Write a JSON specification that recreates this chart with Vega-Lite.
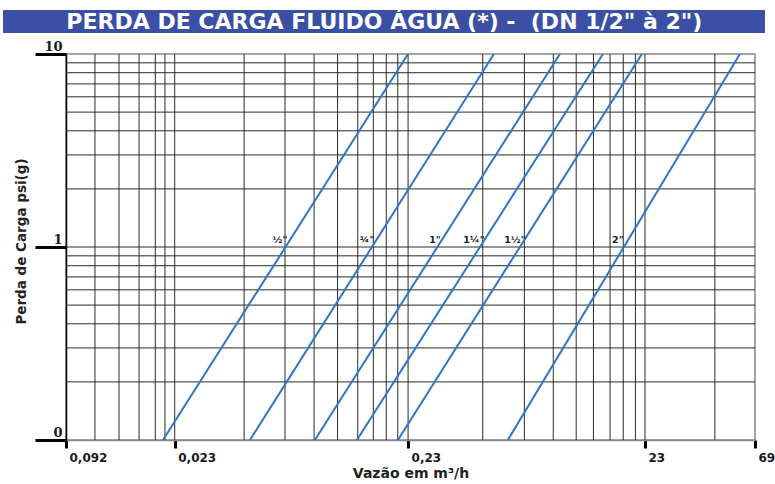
{
  "$schema": "https://vega.github.io/schema/vega-lite/v6.json",
  "padding": {"left": 3, "top": 10, "right": 0, "bottom": 0},
  "background": "white",
  "spacing": 6,
  "columns": 1,
  "align": "none",
  "config": {"view": {"stroke": null}},
  "concat": [
    {
      "width": 689,
      "height": 23,
      "view": {"stroke": null},
      "layer": [
        {
          "data": {"values": [{"band": "banner"}]},
          "mark": {"type": "rect", "color": "#3B4FA4"},
          "encoding": {
            "x": {"datum": 0.004253, "type": "quantitative", "scale": {"type": "log", "domain": [0.0079, 6.9], "nice": false}, "axis": null},
            "x2": {"datum": 7.612}
          }
        },
        {
          "data": {"values": [{"t": "PERDA DE CARGA FLUIDO ÁGUA (*) - \u00a0(DN 1/2\" à 2\")"}]},
          "mark": {"type": "text", "color": "white", "font": "DejaVu Sans", "fontWeight": "bold", "fontSize": 22, "baseline": "middle", "align": "center"},
          "encoding": {
            "x": {"datum": 0.1805, "type": "quantitative"},
            "text": {"field": "t", "type": "nominal"}
          }
        }
      ]
    },
    {
      "width": 689,
      "height": 386,
      "view": {"stroke": "#888", "strokeWidth": 1.5},
      "layer": [
        {
          "data": {"values": [
            {"x": 0.0105}, {"x": 0.0133}, {"x": 0.0162}, {"x": 0.019}, {"x": 0.0209}, {"x": 0.023},
            {"x": 0.0455}, {"x": 0.068}, {"x": 0.0905}, {"x": 0.114}, {"x": 0.139}, {"x": 0.162}, {"x": 0.184}, {"x": 0.206}, {"x": 0.228},
            {"x": 0.475}, {"x": 0.715}, {"x": 0.95}, {"x": 1.19}, {"x": 1.41}, {"x": 1.66}, {"x": 1.89}, {"x": 2.13}, {"x": 2.34},
            {"x": 4.65}
          ]},
          "mark": {"type": "rule", "color": "#2a2a2a", "strokeWidth": 1},
          "encoding": {
            "x": {
              "field": "x", "type": "quantitative",
              "scale": {"type": "log", "domain": [0.0079, 6.9], "nice": false},
              "axis": {
                "values": [0.0079, 0.023, 0.228, 2.34, 6.9],
                "labelExpr": "datum.value < 0.01 ? '0,092' : datum.value < 0.1 ? '0,023' : datum.value < 1 ? '0,23' : datum.value < 5 ? '23' : '69'",
                "grid": false,
                "tickSize": 8, "tickWidth": 3, "tickColor": "black",
                "domainColor": "#888", "domainWidth": 1.5,
                "labelAlign": "left", "labelOffset": 3, "labelPadding": 4,
                "labelFont": "DejaVu Sans", "labelFontWeight": "bold", "labelFontSize": 12, "labelColor": "#1a1a1a",
                "labelOverlap": false, "labelFlush": false, "labelBound": false,
                "title": "Vazão em m³/h",
                "titleFont": "DejaVu Sans", "titleFontSize": 14, "titleFontWeight": "bold", "titleColor": "#222",
                "titlePadding": 3
              }
            }
          }
        },
        {
          "data": {"values": [
            {"y": 0.2}, {"y": 0.3}, {"y": 0.4}, {"y": 0.5}, {"y": 0.6}, {"y": 0.7}, {"y": 0.8}, {"y": 0.9}, {"y": 1},
            {"y": 2}, {"y": 3}, {"y": 4}, {"y": 5}, {"y": 6}, {"y": 7}, {"y": 8}, {"y": 9}
          ]},
          "mark": {"type": "rule", "color": "#2a2a2a", "strokeWidth": 1},
          "encoding": {
            "y": {
              "field": "y", "type": "quantitative",
              "scale": {"type": "log", "domain": [0.1, 10], "nice": false},
              "axis": {
                "values": [0.1, 1, 10],
                "labelExpr": "datum.value < 0.5 ? '0' : datum.value < 5 ? '1' : '10'",
                "grid": false,
                "tickSize": 31, "tickWidth": 3, "tickColor": "black",
                "domainColor": "black", "domainWidth": 1.5,
                "labelAlign": "right", "labelBaseline": "alphabetic", "labelOffset": -4, "labelPadding": -27,
                "labelFont": "DejaVu Serif", "labelFontWeight": "bold", "labelFontSize": 13, "labelColor": "#1a1a1a",
                "labelOverlap": false, "labelFlush": false, "labelBound": false,
                "title": "Perda de Carga psi(g)",
                "titleFont": "DejaVu Sans", "titleFontSize": 13.5, "titleFontWeight": "bold", "titleColor": "#222",
                "titleY": 187,
                "titlePadding": 5
              }
            }
          }
        },
        {
          "data": {"values": [
            {"dn": "½\"", "q": 0.0205, "p": 0.1}, {"dn": "½\"", "q": 0.2278, "p": 10},
            {"dn": "¾\"", "q": 0.0482, "p": 0.1}, {"dn": "¾\"", "q": 0.53, "p": 10},
            {"dn": "1\"", "q": 0.0912, "p": 0.1}, {"dn": "1\"", "q": 1.014, "p": 10},
            {"dn": "1¼\"", "q": 0.1379, "p": 0.1}, {"dn": "1¼\"", "q": 1.548, "p": 10},
            {"dn": "1½\"", "q": 0.2064, "p": 0.1}, {"dn": "1½\"", "q": 2.27, "p": 10},
            {"dn": "2\"", "q": 0.608, "p": 0.1}, {"dn": "2\"", "q": 5.948, "p": 10}
          ]},
          "mark": {"type": "line", "color": "#2E75C6", "strokeWidth": 2},
          "encoding": {
            "x": {"field": "q", "type": "quantitative"},
            "y": {"field": "p", "type": "quantitative"},
            "detail": {"field": "dn", "type": "nominal"}
          }
        },
        {
          "data": {"values": [
            {"dn": "½\"", "q": 0.0647, "p": 1},
            {"dn": "¾\"", "q": 0.1522, "p": 1},
            {"dn": "1\"", "q": 0.2969, "p": 1},
            {"dn": "1¼\"", "q": 0.4355, "p": 1},
            {"dn": "1½\"", "q": 0.6516, "p": 1},
            {"dn": "2\"", "q": 1.793, "p": 1}
          ]},
          "mark": {"type": "text", "font": "DejaVu Sans", "fontWeight": "bold", "fontSize": 9.5, "color": "#222", "baseline": "middle", "align": "center", "dy": -7},
          "encoding": {
            "x": {"field": "q", "type": "quantitative"},
            "y": {"field": "p", "type": "quantitative"},
            "text": {"field": "dn", "type": "nominal"}
          }
        }
      ]
    }
  ]
}
